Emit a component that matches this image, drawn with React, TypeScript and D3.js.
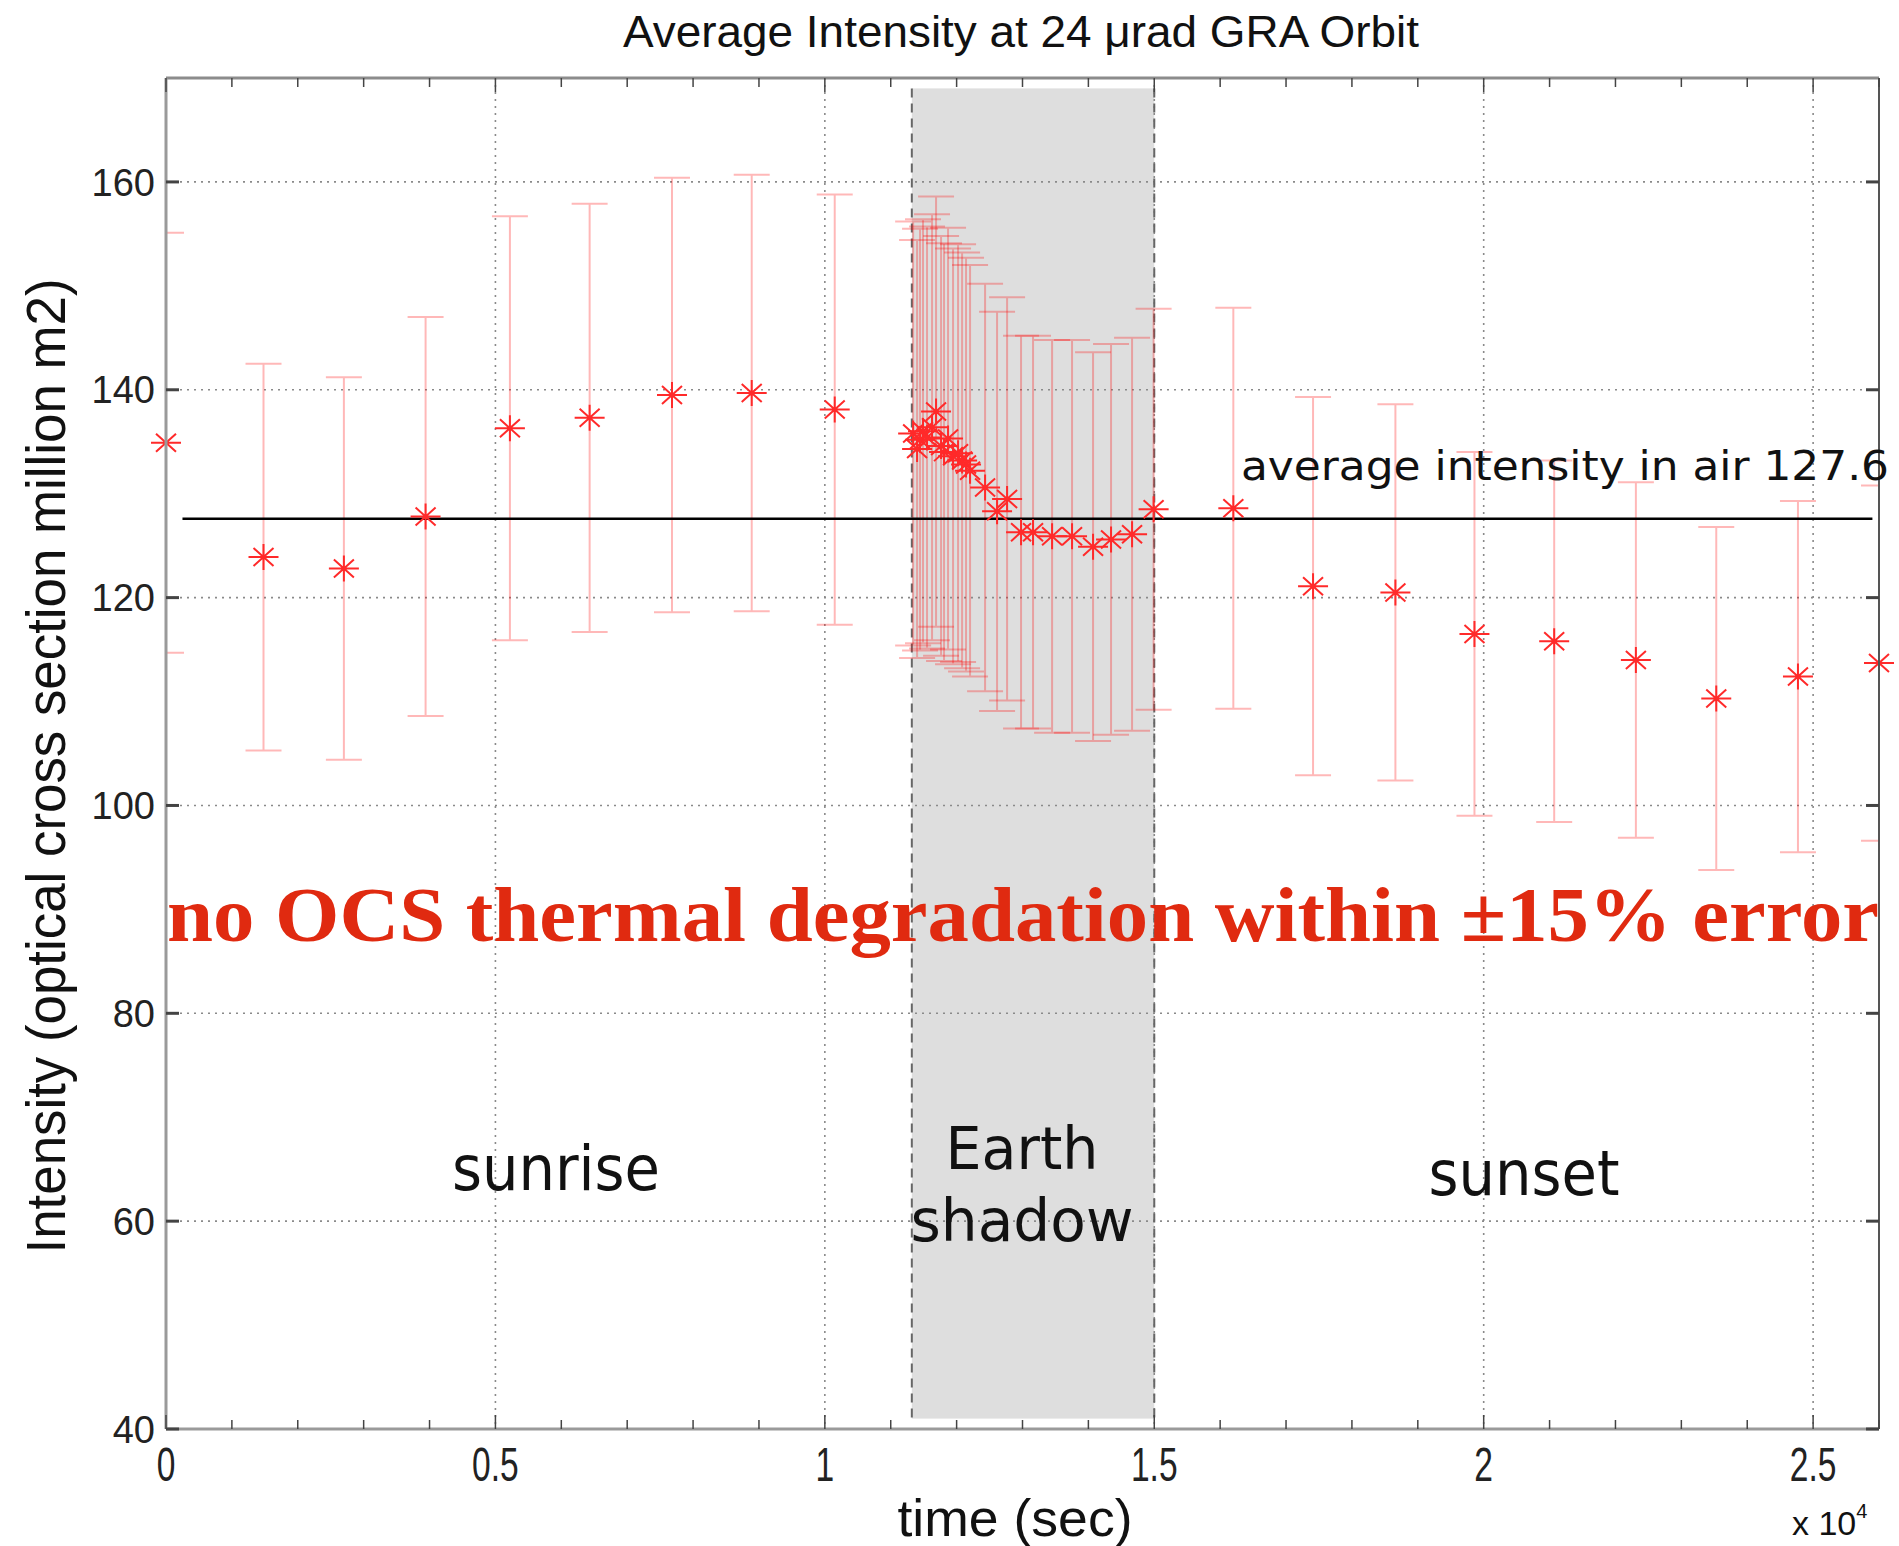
import * as d3 from "d3"

// time (s) of each sample
const timeSec = [0, 1480, 2700, 3940, 5220, 6430, 7680, 8890, 10150,
  11340, 11400, 11445, 11490, 11551, 11627, 11688, 11764, 11809, 11870, 11946, 12022, 12083, 12143, 12204,
  12432, 12614, 12766, 12978, 13160, 13449, 13752, 14071, 14344, 14663,
  14990, 16200, 17410, 18660, 19860, 21070, 22310, 23530, 24770, 26000]

const intensity = [134.9, 123.9, 122.8, 127.8, 136.3, 137.3, 139.5, 139.7, 138.1,
  135.8, 134.3, 135.2, 136.0, 135.4, 136.4, 137.9, 134.6, 134.0, 135.3, 133.6, 133.9, 133.2, 132.8, 132.2,
  130.6, 128.3, 129.5, 126.3, 126.3, 125.9, 125.9, 124.9, 125.6, 126.1,
  128.5, 128.6, 121.1, 120.5, 116.5, 115.8, 114.0, 110.3, 112.4, 113.7]

const upper = [155.1, 142.5, 141.2, 147.0, 156.7, 157.9, 160.4, 160.7, 158.8,
  156.2, 154.4, 155.5, 156.4, 155.7, 156.9, 158.6, 154.8, 154.1, 155.6, 153.6, 154.0, 153.2, 152.7, 152.0,
  150.2, 147.5, 148.9, 145.2, 145.2, 144.8, 144.8, 143.6, 144.4, 145.0,
  147.8, 147.9, 139.3, 138.6, 134.0, 133.2, 131.1, 126.8, 129.3, 130.8]

const lower = [114.7, 105.3, 104.4, 108.6, 115.9, 116.7, 118.6, 118.7, 117.4,
  115.4, 114.2, 114.9, 115.6, 115.1, 115.9, 117.2, 114.4, 113.9, 115.0, 113.6, 113.8, 113.2, 112.9, 112.4,
  111.0, 109.1, 110.1, 107.4, 107.4, 107.0, 107.0, 106.2, 106.8, 107.2,
  109.2, 109.3, 102.9, 102.4, 99.0, 98.4, 96.9, 93.8, 95.5, 96.6]

const avgValue = 127.6
const avgSpan = [250, 25900]
const shadowSpan = [11320, 15000]
const shadowRange = [41, 169]
const xTickLabels = ["0", "0.5", "1", "1.5", "2", "2.5"]
const yTickValues = [40, 60, 80, 100, 120, 140, 160]

const W = 1899
const H = 1546
const left = 166, right = 1879, top = 78, bottom = 1429

const star = (cx: number, cy: number) =>
  `M${cx - 15},${cy}h30M${cx},${cy - 13}v26M${cx - 10},${cy - 9}l20,18M${cx - 10},${cy + 9}l20,-18`

export default function App() {
  const x = d3.scaleLinear().domain([0, 26000]).range([left, right])
  const y = d3.scaleLinear().domain([40, 170]).range([bottom, top])

  const majorX = x.ticks(6).filter(d => d % 5000 === 0)
  const minorX = x.ticks(26)
  const gridY = yTickValues.filter(d => d > 40)

  const pts = timeSec.map((t, i) => ({ t, v: intensity[i], hi: upper[i], lo: lower[i] }))

  return (
    <svg width={W} height={H} style={{ position: "absolute", left: 0, top: 0, background: "#fff" }}>
      <defs>
        <clipPath id="plot">
          <rect x={left} y={top} width={right - left} height={bottom - top} />
        </clipPath>
      </defs>

      {/* earth shadow band */}
      <rect x={x(shadowSpan[0])} y={y(shadowRange[1])} width={x(shadowSpan[1]) - x(shadowSpan[0])}
        height={y(shadowRange[0]) - y(shadowRange[1])} fill="#dedede" />

      {/* grid */}
      <g stroke="#8a8a8a" strokeWidth={1.6} strokeDasharray="2,5">
        {gridY.map(d => <line key={d} x1={left} x2={right} y1={y(d)} y2={y(d)} />)}
        {majorX.filter(d => d > 0).map(d => <line key={d} x1={x(d)} x2={x(d)} y1={top} y2={bottom} />)}
      </g>

      {/* shadow edges */}
      <g stroke="#666" strokeWidth={2} strokeDasharray="9,6">
        {shadowSpan.map(d => <line key={d} x1={x(d)} x2={x(d)} y1={y(shadowRange[1])} y2={y(shadowRange[0])} />)}
      </g>

      {/* error bars */}
      <g clipPath="url(#plot)" stroke="#ff0000" strokeOpacity={0.28} strokeWidth={2} fill="none">
        {pts.map((p, i) => (
          <path key={i} d={`M${x(p.t)},${y(p.lo)}V${y(p.hi)}M${x(p.t) - 18},${y(p.hi)}h36M${x(p.t) - 18},${y(p.lo)}h36`} />
        ))}
      </g>

      {/* average line */}
      <line x1={x(avgSpan[0])} x2={x(avgSpan[1])} y1={y(avgValue)} y2={y(avgValue)} stroke="#000" strokeWidth={2.5} />

      {/* markers */}
      <g stroke="#ff2a2a" strokeWidth={2} fill="none">
        {pts.map((p, i) => <path key={i} d={star(x(p.t), y(p.v))} />)}
      </g>

      {/* axes box */}
      <g fill="none">
        <line x1={left} x2={right} y1={top} y2={top} stroke="#8c8c8c" strokeWidth={3} />
        <line x1={left} x2={right} y1={bottom} y2={bottom} stroke="#9a9a9a" strokeWidth={3} />
        <line x1={left} x2={left} y1={top} y2={bottom} stroke="#9a9a9a" strokeWidth={3} />
        <line x1={right} x2={right} y1={top} y2={bottom} stroke="#555" strokeWidth={2} />
      </g>

      {/* ticks */}
      <g stroke="#444" strokeWidth={1.5}>
        {minorX.map(d => {
          const len = d % 5000 === 0 ? 14 : 9
          return (
            <g key={d}>
              <line x1={x(d)} x2={x(d)} y1={bottom} y2={bottom - len} />
              <line x1={x(d)} x2={x(d)} y1={top} y2={top + len} />
            </g>
          )
        })}
      </g>
      <g stroke="#444" strokeWidth={3}>
        {yTickValues.map(d => (
          <g key={d}>
            <line x1={left} x2={left + 13} y1={y(d)} y2={y(d)} />
            <line x1={right} x2={right - 13} y1={y(d)} y2={y(d)} />
          </g>
        ))}
      </g>

      {/* tick labels */}
      <g fontFamily="'Liberation Sans', Arial, sans-serif" fill="#222">
        {yTickValues.map(d => (
          <text key={d} x={155} y={y(d)} dy="0.36em" textAnchor="end" fontSize={38}>{d}</text>
        ))}
        {majorX.map((d, i) => (
          <g key={d} transform={`translate(${x(d)},1481) scale(0.7,1)`}>
            <text textAnchor="middle" fontSize={48}>{xTickLabels[i]}</text>
          </g>
        ))}
      </g>

      {/* titles */}
      <g fontFamily="'Liberation Sans', Arial, sans-serif" fill="#111">
        <text x={1021} y={47} textAnchor="middle" fontSize={44} textLength={796} lengthAdjust="spacingAndGlyphs">
          Average Intensity at 24 μrad GRA Orbit
        </text>
        <text x={1015} y={1536} textAnchor="middle" fontSize={52} textLength={235} lengthAdjust="spacingAndGlyphs">
          time (sec)
        </text>
        <text x={1792} y={1535} fontSize={34}>
          x 10<tspan dy={-17} fontSize={20}>4</tspan>
        </text>
        <text transform={`translate(65,766) rotate(-90)`} textAnchor="middle" fontSize={55} textLength={975}
          lengthAdjust="spacingAndGlyphs">
          Intensity (optical cross section million m2)
        </text>
      </g>

      {/* annotations */}
      <g fontFamily="'DejaVu Sans', Verdana, sans-serif" fill="#111">
        <text x={1241} y={480} fontSize={40} textLength={648} lengthAdjust="spacingAndGlyphs">
          average intensity in air 127.6
        </text>
        <text x={556} y={1190} textAnchor="middle" fontSize={62} textLength={208} lengthAdjust="spacingAndGlyphs">sunrise</text>
        <text x={1022} y={1169} textAnchor="middle" fontSize={58} textLength={153} lengthAdjust="spacingAndGlyphs">Earth</text>
        <text x={1022} y={1241} textAnchor="middle" fontSize={58} textLength={223} lengthAdjust="spacingAndGlyphs">shadow</text>
        <text x={1524} y={1195} textAnchor="middle" fontSize={62} textLength={191} lengthAdjust="spacingAndGlyphs">sunset</text>
      </g>

      <text x={167} y={941} fontFamily="'Liberation Serif', 'Times New Roman', serif" fontWeight="bold"
        fontSize={78} fill="#e02a10" textLength={1712} lengthAdjust="spacingAndGlyphs">
        no OCS thermal degradation within ±15% error
      </text>
    </svg>
  )
}
